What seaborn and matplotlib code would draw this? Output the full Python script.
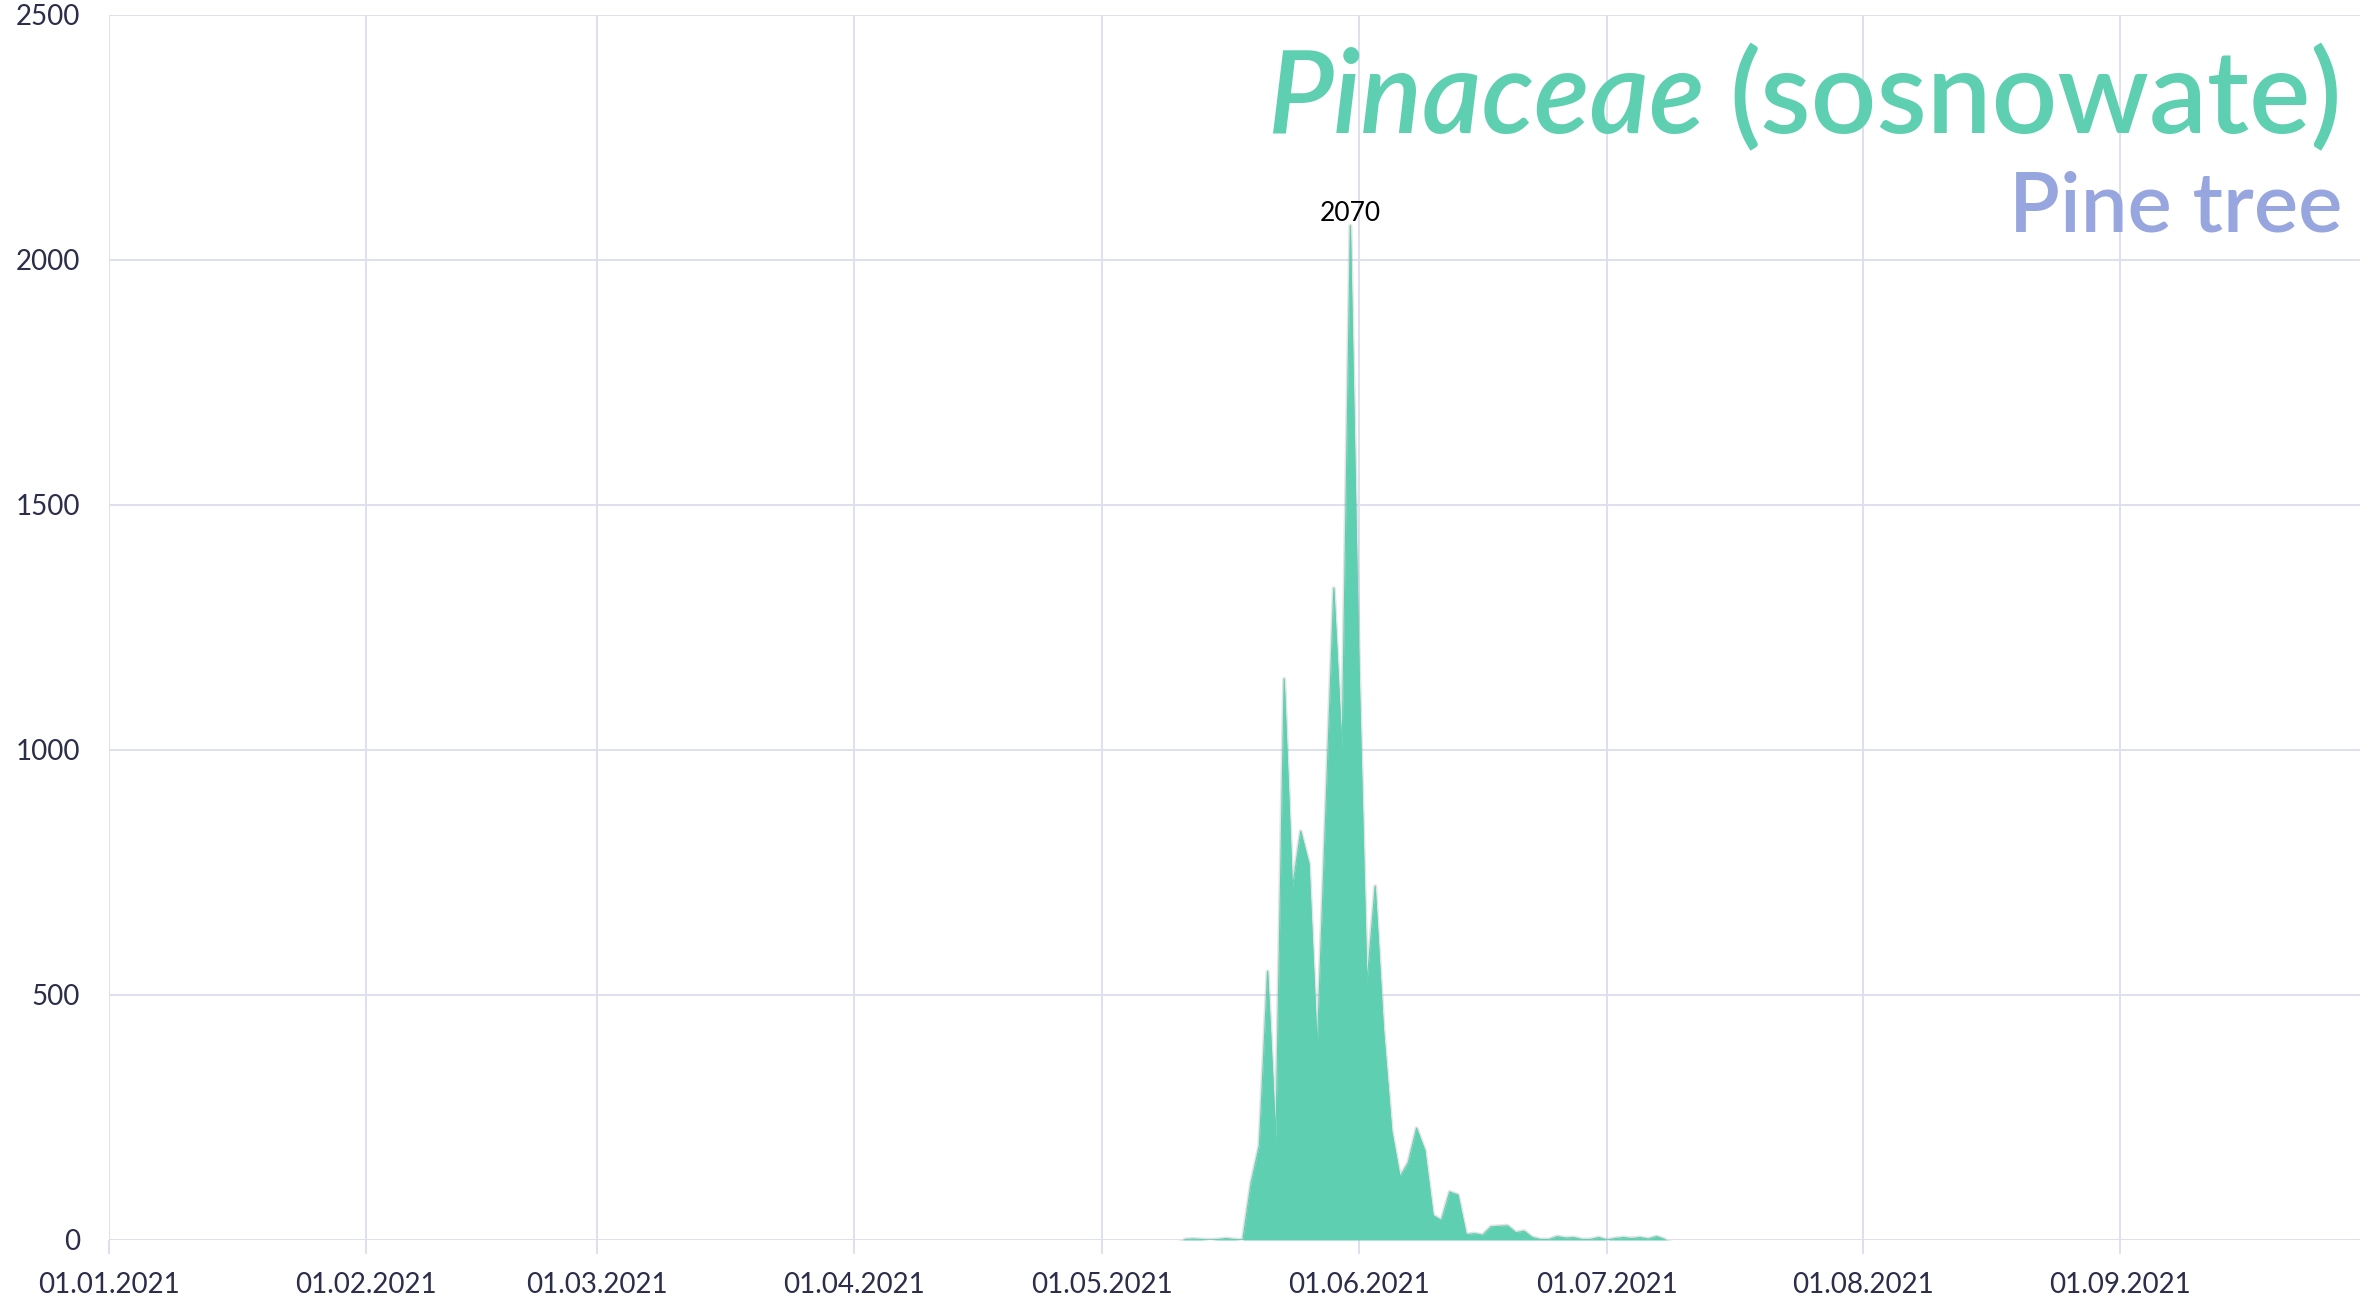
import pandas as pd
import numpy as np
import matplotlib.pyplot as plt
import matplotlib.dates as mdates
import seaborn as sns

# Daily pollen counts, season only (all other days in the range are 0)
season_start = "2021-05-11"
season_values = [
    1, 2, 1, 0, 1, 3, 1, 0, 116, 193,
    548, 206, 1145, 718, 834, 768, 392, 860, 1330, 998,
    2070, 1200, 523, 722, 430, 222, 129, 158, 228, 183,
    50, 40, 98, 92, 11, 13, 10, 27, 28, 29,
    15, 18, 5, 1, 1, 7, 4, 5, 1, 1,
    5, 0, 3, 5, 3, 5, 2, 7, 1,
]
range_start = "2021-01-01"
range_end = "2021-09-30"
y_ticks = [0, 500, 1000, 1500, 2000, 2500]

title_latin = "Pinaceae"
title_polish = "(sosnowate)"
title_english = "Pine tree"

fill_color = "#5ECFB0"
sub_color = "#97A6DE"
grid_color = "#DCDDEE"
text_color = "#2B2D4A"

# Build the full daily series
all_days = pd.date_range(range_start, range_end, freq="D")
season_days = pd.date_range(season_start, periods=len(season_values), freq="D")
season = pd.DataFrame({"date": season_days, "count": season_values})
df = pd.DataFrame({"date": all_days}).merge(season, on="date", how="left")
df["count"] = df["count"].fillna(0)

sns.set_theme(style="whitegrid")
plt.rcParams["font.family"] = ["Lato", "DejaVu Sans"]

fig = plt.figure(figsize=(23.77, 12.98), dpi=100)
ax = fig.add_axes([109 / 2377, 1 - 1240 / 1298, (2360 - 109) / 2377, (1240 - 15) / 1298])

# soft shadow under the area
ax.plot(season["date"], season["count"], color="#888888", alpha=0.22, linewidth=3, zorder=2)
ax.fill_between(df["date"], df["count"], 0, color=fill_color, linewidth=0, zorder=3)
sns.lineplot(data=season, x="date", y="count", ax=ax, color=fill_color, linewidth=0.8, zorder=4)

# peak label
peak = df.loc[df["count"].idxmax()]
ax.annotate(f"{int(peak['count'])}", xy=(peak["date"], peak["count"]),
            xytext=(0, 0), textcoords="offset points", ha="center", va="bottom",
            fontsize=19, color="black", zorder=5)

ax.set_xlim(pd.Timestamp(range_start), pd.Timestamp(range_end))
ax.set_ylim(0, 2500)
ax.set_yticks(y_ticks)
ax.xaxis.set_major_locator(mdates.MonthLocator())
ax.xaxis.set_major_formatter(mdates.DateFormatter("%d.%m.%Y"))

ax.grid(True, color=grid_color, linewidth=1.3)
ax.set_axisbelow(True)
for side in ["top", "right", "bottom", "left"]:
    ax.spines[side].set_visible(False)
ax.tick_params(axis="x", length=10, width=1.3, color=grid_color, pad=13,
               labelsize=20, labelcolor=text_color, bottom=True)
ax.tick_params(axis="y", length=0, pad=21, labelsize=20, labelcolor=text_color)
ax.set_xlabel("")
ax.set_ylabel("")

# titles, right aligned
fig.canvas.draw()
renderer = fig.canvas.get_renderer()
t1 = fig.text(0.9853, 1 - 133 / 1298, title_polish, ha="right", va="baseline",
              fontsize=83, color=fill_color, fontweight="semibold")
bb = t1.get_window_extent(renderer=renderer)
fig.text((bb.x0 - 24) / fig.bbox.width, 1 - 133 / 1298, title_latin, ha="right", va="baseline",
         fontsize=83, color=fill_color, fontweight="semibold", fontstyle="italic")
fig.text(0.9853, 1 - 232 / 1298, title_english, ha="right", va="baseline",
         fontsize=60, color=sub_color, fontweight="semibold")

fig.savefig("out.png", dpi=100)
